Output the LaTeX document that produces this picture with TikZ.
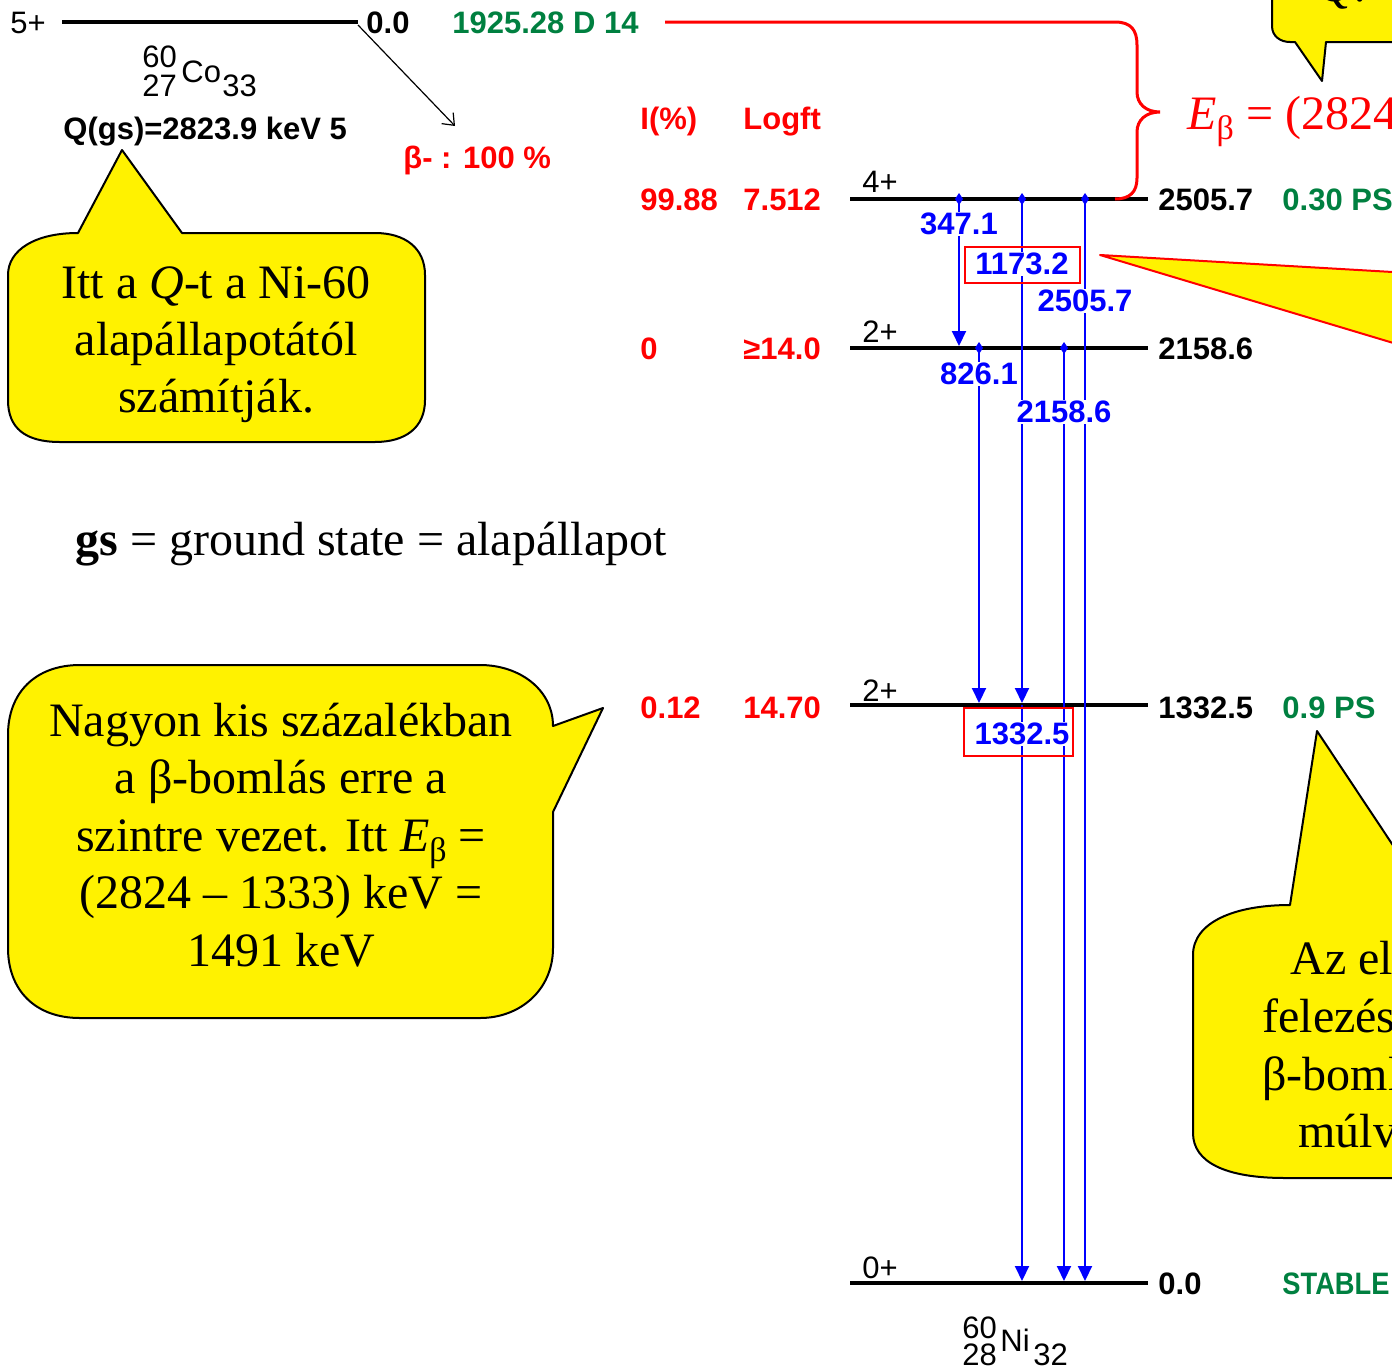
\documentclass[tikz,border=0pt]{standalone}
\usepackage{fontspec}
\setmainfont{Liberation Serif}
\newfontfamily\ensfont{Liberation Sans}
\usetikzlibrary{arrows.meta}
\definecolor{ensgreen}{RGB}{0,128,64}
\newcommand\Ebeta{\textit{E}\raisebox{-5pt}{\fontsize{17}{17}\selectfont β}}
\newcommand\gdot[1]{\fill[blue] (#1) +(0,-6) -- +(4,0) -- +(0,6) -- +(-4,0) -- cycle;}
\tikzset{
  lvl/.style={line width=2.1pt, black},
  gam/.style={blue, line width=1pt, -{Triangle[width=7pt,length=7.5pt]}},
  enstxt/.style={font=\ensfont\bfseries\fontsize{15.5}{18}\selectfont, inner sep=0pt, anchor=base west},
  spintxt/.style={font=\ensfont\fontsize{15.5}{18}\selectfont, inner sep=0pt, anchor=base west},
  gamlbl/.style={font=\ensfont\bfseries\fontsize{15.5}{18}\selectfont, text=blue, fill=white, inner sep=0.6pt},
  hlbox/.style={draw=red, line width=1.3pt},
  bubble/.style={fill=yellow, draw=black, line width=1pt, line join=round},
  bubtxt/.style={font=\fontsize{24}{28.75}\selectfont, inner sep=0pt, anchor=base},
  bubtxtw/.style={font=\fontsize{24}{28.75}\selectfont, inner sep=0pt, anchor=base west},
}
\begin{document}
\begin{tikzpicture}[x=0.5pt,y=-0.5pt]
\useasboundingbox (0,0) rectangle (1392,1371);
\clip (0,0) rectangle (1392,1371);
\fill[white] (0,0) rectangle (1392,1371);

% ---- parent: Co-60 ground state ----
\coordinate (coL) at (62,22);
\coordinate (coR) at (358,22);
\draw[lvl] (coL) -- (coR);
\node[spintxt] (coJ) at (10,33) {5+};
\node[enstxt] (coE) at (366,33) {0.0};
\node[enstxt, text=ensgreen] (coT) at (452,33) {1925.28 D 14};
\node[spintxt] (coA) at (142,67) {60};
\node[spintxt] (coZ) at (142,96) {27};
\node[spintxt] (coS) at (181,82) {Co};
\node[spintxt] (coN) at (222,96) {33};
\node[enstxt] (qgs) at (63,139) {Q(gs)=2823.9 keV 5};
\coordinate (bStart) at (358,25);
\coordinate (bEnd) at (455,126);
\draw[black, line width=0.6pt, -{Straight Barb[length=5pt,width=8pt]}] (bStart) -- (bEnd);
\node[enstxt, text=red] (bm) at (403,168) {β- : 100 \%};

% ---- column headers ----
\node[enstxt, text=red] (hI) at (640,129) {I(\%)};
\node[enstxt, text=red] (hL) at (743,129) {Logft};

% ---- daughter levels: Ni-60 ----
\foreach \n/\y in {La/199, Lb/348, Lc/705, Ld/1283} {
  \coordinate (\n-l) at (850,\y);
  \coordinate (\n-r) at (1148,\y);
  \draw[lvl] (\n-l) -- (\n-r);
}
\node[enstxt, text=red] (iA) at (640,210) {99.88};
\node[enstxt, text=red] (fA) at (743,210) {7.512};
\node[spintxt] (jA) at (862,192) {4+};
\node[enstxt] (eA) at (1158,210) {2505.7};
\node[enstxt, text=ensgreen] (tA) at (1282,210) {0.30 PS};

\node[enstxt, text=red] (iB) at (640,359) {0};
\node[enstxt, text=red] (fB) at (743,359) {≥14.0};
\node[spintxt] (jB) at (862,342) {2+};
\node[enstxt] (eB) at (1158,359) {2158.6};

\node[enstxt, text=red] (iC) at (640,718) {0.12};
\node[enstxt, text=red] (fC) at (743,718) {14.70};
\node[spintxt] (jC) at (862,701) {2+};
\node[enstxt] (eC) at (1158,718) {1332.5};
\node[enstxt, text=ensgreen] (tC) at (1282,718) {0.9 PS};

\node[spintxt] (jD) at (862,1278) {0+};
\node[enstxt] (eD) at (1158,1294) {0.0};
\node[enstxt, text=ensgreen] (tD) at (1282,1294) {\scalebox{0.88}[1]{STABLE}};

\node[spintxt] (niA) at (962,1338) {60};
\node[spintxt] (niZ) at (962,1365) {28};
\node[spintxt] (niS) at (1000,1351) {Ni};
\node[spintxt] (niN) at (1033,1365) {32};

% ---- gamma transitions ----
\coordinate (g1t) at (959,199);  \coordinate (g1b) at (959,346);
\coordinate (g2t) at (1022,199); \coordinate (g2b) at (1022,703);
\coordinate (g3t) at (1085,199); \coordinate (g3b) at (1085,1281);
\coordinate (g4t) at (979,348);  \coordinate (g4b) at (979,703);
\coordinate (g5t) at (1064,348); \coordinate (g5b) at (1064,1281);
\coordinate (g6t) at (1022,705); \coordinate (g6b) at (1022,1281);
\foreach \g in {1,...,6} { \draw[gam] (g\g t) -- (g\g b); }
\foreach \g in {1,...,5} { \gdot{g\g t} }

\node[gamlbl] (l1) at (959,224) {347.1};
\node[gamlbl] (l2) at (1022,264) {1173.2};
\node[gamlbl] (l3) at (1085,301) {2505.7};
\node[gamlbl] (l4) at (979,374) {826.1};
\node[gamlbl] (l5) at (1064,412) {2158.6};
\node[gamlbl] (l6) at (1022,734) {1332.5};
\draw[hlbox] (965,247) rectangle (1080,283);
\draw[hlbox] (964,708) rectangle (1073,756);

% ---- brace: beta energy to the 2505.7 level ----
\coordinate (brA) at (665,22);
\coordinate (brB) at (1115,199);
\draw[red, line width=1.5pt] (brA) -- (1115,22)
  .. controls (1131,22) and (1137,30) .. (1137,45) -- (1137,92)
  .. controls (1137,104) and (1146,112) .. (1160,112)
  .. controls (1146,112) and (1137,120) .. (1137,132) -- (1137,178)
  .. controls (1137,192) and (1130,199) .. (brB);
\node[bubtxtw, text=red] (ebTop) at (1187,129) {\Ebeta{} = (2824};

% ---- callouts ----
\draw[bubble] (1272,-20) -- (1272,26) .. controls (1272,36) and (1280,42) .. (1290,42)
  -- (1295,42) -- (1322,81) -- (1326,42) -- (1420,42) -- (1420,-20) -- cycle;
\node[bubtxtw] (qTop) at (1318,1) {\textit{Q}:};

\fill[yellow] (1100,255) -- (1420,273.6) -- (1420,351) -- cycle;
\draw[red, line width=1pt, line join=round] (1420,273.6) -- (1100,255) -- (1420,351);

\draw[bubble] (78,233) -- (122,150) -- (182,233) -- (375,233)
  .. controls (405,233) and (425,248) .. (425,275) -- (425,400)
  .. controls (425,428) and (405,442) .. (375,442) -- (60,442)
  .. controls (25,442) and (8,428) .. (8,400) -- (8,275)
  .. controls (8,250) and (35,233) .. (78,233) -- cycle;
\foreach \t [count=\i] in {{Itt a \textit{Q}-t a Ni-60},{alapállapotától},{számítják.}}
  { \node[bubtxt] (cq\i) at (216,{298+57*(\i-1)}) {\t}; }

\node[bubtxtw] (gs) at (75,555) {\textbf{gs} = ground state = alapállapot};

\draw[bubble] (553,812) -- (553,948)
  .. controls (553,990) and (520,1018) .. (480,1018) -- (80,1018)
  .. controls (35,1018) and (8,990) .. (8,948) -- (8,735)
  .. controls (8,693) and (35,665) .. (80,665) -- (480,665)
  .. controls (520,665) and (553,690) .. (553,726) -- (603,708) -- cycle;
\foreach \t [count=\i] in {{Nagyon kis százalékban},{a β-bomlás erre a},{szintre vezet. Itt \Ebeta{} =},{(2824 – 1333) keV =},{1491 keV}}
  { \node[bubtxt] (cn\i) at (281,{736+57.5*(\i-1)}) {\t}; }

\draw[bubble] (1290,905) -- (1317,731) -- (1420,886) -- (1420,1178) -- (1285,1178)
  .. controls (1225,1178) and (1193,1162) .. (1193,1133) -- (1193,955)
  .. controls (1193,922) and (1235,905) .. (1290,905) -- cycle;
\node[bubtxtw] (ch1) at (1290,974) {Az el};
\node[bubtxtw] (ch2) at (1262,1032) {felezés};
\node[bubtxtw] (ch3) at (1262,1090) {β-boml};
\node[bubtxtw] (ch4) at (1298,1147) {múlv};
\end{tikzpicture}
\end{document}
